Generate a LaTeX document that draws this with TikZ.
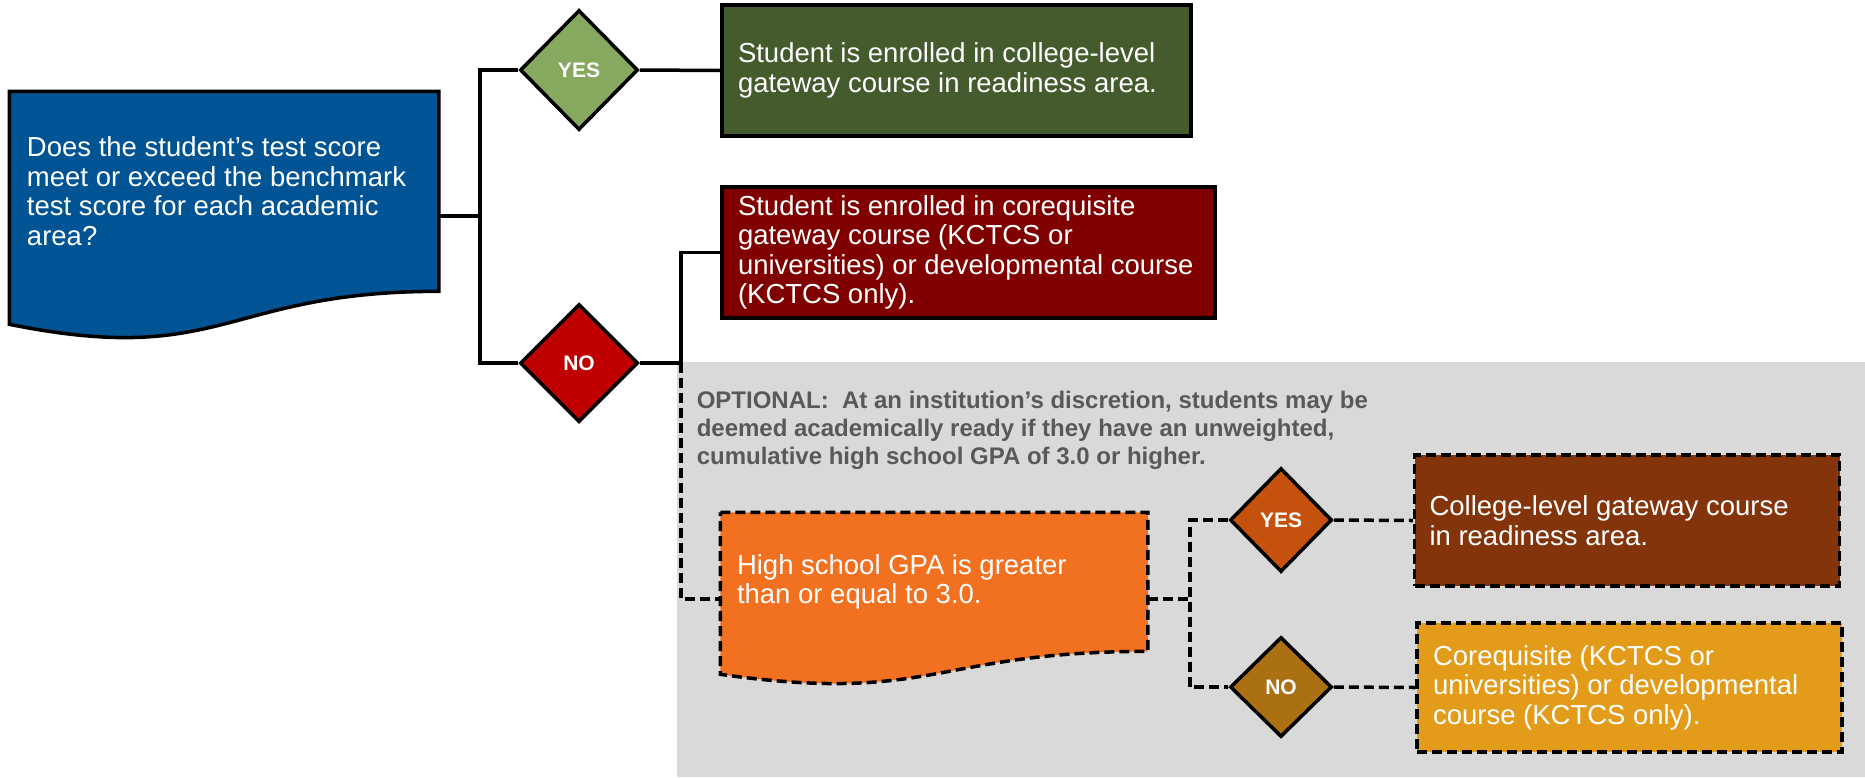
\documentclass[tikz,border=0pt]{standalone}
\usepackage{fontspec}
\setmainfont{Liberation Sans}
\usepackage{tikz}
\usetikzlibrary{
	calc,
	positioning,
	shapes.geometric
}
\definecolor{QBlue}{RGB}{0,84,147}
\definecolor{YesGreen}{RGB}{134,168,95}
\definecolor{BoxGreen}{RGB}{67,91,45}
\definecolor{NoRed}{RGB}{192,0,0}
\definecolor{BoxRed}{RGB}{128,0,0}
\definecolor{OptGray}{RGB}{217,217,217}
\definecolor{OptText}{RGB}{89,89,89}
\definecolor{GpaOrange}{RGB}{242,113,33}
\definecolor{YesRust}{RGB}{197,82,12}
\definecolor{BoxBrown}{RGB}{131,52,10}
\definecolor{NoOchre}{RGB}{170,112,18}
\definecolor{BoxGold}{RGB}{227,156,26}
\tikzset{every path/.append style={line width=3.5pt}}
\tikzset{
	decision/.style={diamond,draw,line width=3.5pt,inner sep=0pt,text=white,font=\bfseries\fontsize{21}{24}\selectfont},
	outcome/.style={rectangle,draw,line width=3.5pt,inner sep=0pt},
	boxtext/.style={anchor=west,align=left,text=white,inner sep=0pt,font=\fontsize{27.5}{29.5}\selectfont},
	optline/.style={dash pattern=on 10pt off 5pt}
}
% document shape drawn round an empty node
\newcommand{\tikzDoc}[2]{\path[line width=3.5pt,#2] (#1.north west) -- (#1.north east) -- ($(#1.north east)!0.802!(#1.south east)$) .. controls ($(#1.north)!0.802!(#1.south)$) and ($(#1.north)!1.1075!(#1.south)$) .. ($(#1.north west)!0.934!(#1.south west)$) -- cycle;}

\begin{document}
\begin{tikzpicture}[x=1pt,y=-1pt]
	\useasboundingbox (0,0) rectangle (1865,777);
	
	% optional area
	\fill[OptGray] (677,362) rectangle (1865,777);
	
	\node (quest) at (224,216) [minimum width=426pt,minimum height=246pt,inner sep=0pt] {};
	\tikzDoc{quest}{draw,fill=QBlue}
	\node[boxtext] (questtext) at ($(quest.north west)!0.4!(quest.south west)+(16,0)$) {Does the student’s test score\\meet or exceed the benchmark\\test score for each academic\\area?};
	
	\node (yes1) at (579,70) [decision,fill=YesGreen,minimum width=118pt,minimum height=120pt] {YES};
	\node (no1) at (579,363) [decision,fill=NoRed,minimum width=118pt,minimum height=118pt] {NO};
	
	\node (ready) at (956.5,70.5) [outcome,fill=BoxGreen,minimum width=469pt,minimum height=131pt] {};
	\node[boxtext,right=16pt of ready.west] (readytext) {Student is enrolled in college-level\\gateway course in readiness area.};
	
	\node (coreq) at (968.5,252.5) [outcome,fill=BoxRed,minimum width=493pt,minimum height=131pt] {};
	\node[boxtext,right=16pt of coreq.west] (coreqtext) {Student is enrolled in corequisite\\gateway course (KCTCS or\\universities) or developmental course\\(KCTCS only).};
	
	\node[anchor=west,align=left,inner sep=0pt,text=OptText,font=\bfseries\fontsize{24}{28}\selectfont] (opttext) at (695,430) {OPTIONAL:\ \ At an institution’s discretion, students may be\\deemed academically ready if they have an unweighted,\\cumulative high school GPA of 3.0 or higher.};
	
	\node (gpa) at (934,599) [minimum width=424pt,minimum height=170pt,inner sep=0pt] {};
	\tikzDoc{gpa}{draw,optline,fill=GpaOrange}
	\node[boxtext] (gpatext) at ($(gpa.north west)!0.4!(gpa.south west)+(15,0)$) {High school GPA is greater\\than or equal to 3.0.};
	
	\node (yes2) at (1281,520) [decision,fill=YesRust,minimum width=102pt,minimum height=104pt] {YES};
	\node (no2) at (1281,687) [decision,fill=NoOchre,minimum width=102pt,minimum height=100pt] {NO};
	
	\node (gateway) at (1627,520.5) [outcome,optline,fill=BoxBrown,minimum width=425pt,minimum height=131pt] {};
	\node[boxtext,right=15pt of gateway.west] (gatewaytext) {College-level gateway course\\in readiness area.};
	
	\node (devcourse) at (1629.5,687.5) [outcome,optline,fill=BoxGold,minimum width=425pt,minimum height=129pt] {};
	\node[boxtext,right=16pt of devcourse.west] (devcoursetext) {Corequisite (KCTCS or\\universities) or developmental\\course (KCTCS only).};
	
	% connectors
	\coordinate (j1) at ($(quest.east)+(41,0)$);
	\coordinate (j2) at ($(no1.east)+(41,0)$);
	\coordinate (j3) at ($(gpa.east)+(42,0)$);
	\draw (quest.east) -- (j1);
	\draw (yes1.west) -| (j1) |- (no1.west);
	\draw (yes1.east) -- (ready.west);
	\draw (no1.east) -- (j2) |- (coreq.west);
	\draw[optline] (j2) |- (gpa.west);
	\draw[optline] (gpa.east) -- (j3);
	\draw[optline] (yes2.west) -| (j3) |- (no2.west);
	\draw[optline] (yes2.east) -- (gateway.west);
	\draw[optline] (no2.east) -- (devcourse.west);
\end{tikzpicture}
\end{document}
